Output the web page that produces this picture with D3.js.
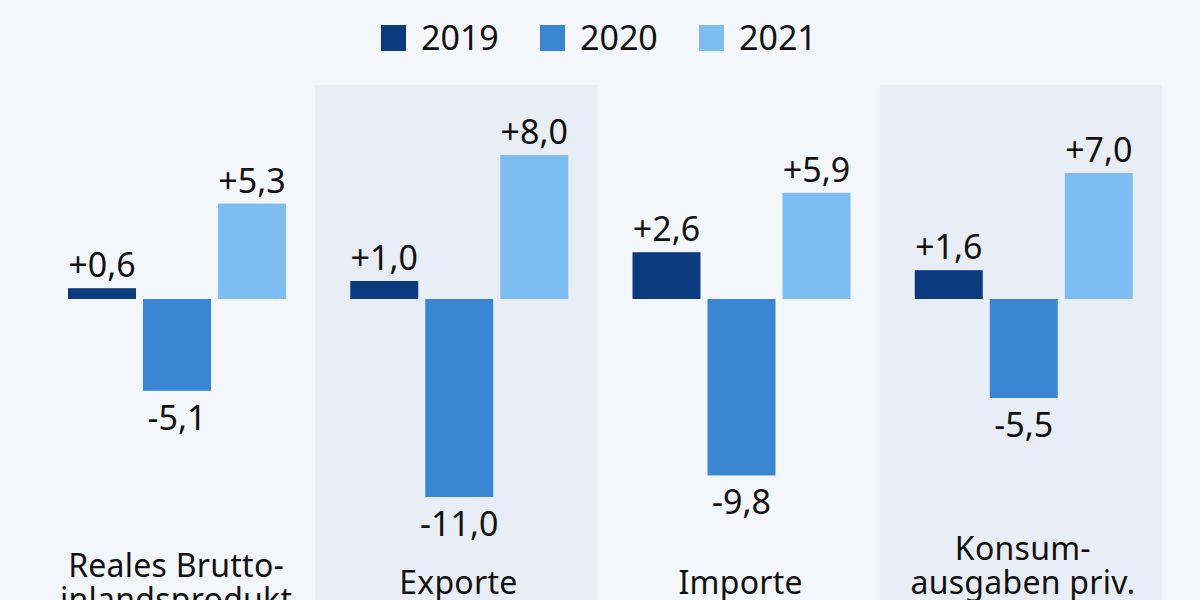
<!DOCTYPE html>
<html>
<head>
<meta charset="utf-8">
<script src="https://cdn.jsdelivr.net/npm/d3@7"></script>
<style>
  html, body { margin: 0; padding: 0; background: #f3f6fa; }
  svg { display: block; font-family: "Noto Sans", sans-serif; }
</style>
</head>
<body>
<svg id="chart" width="1200" height="600"></svg>
<script>
(function() {
  var categories = ["Reales Brutto-\ninlandsprodukt", "Exporte", "Importe", "Konsum-\nausgaben priv.\nHaushalte"];
  var years = ["2019", "2020", "2021"];
  var values2019 = [0.6, 1.0, 2.6, 1.6];
  var values2020 = [-5.1, -11.0, -9.8, -5.5];
  var values2021 = [5.3, 8.0, 5.9, 7.0];
  var colors = ["#0b3a7e", "#3a86d3", "#7dbdf1"];

  var series = [values2019, values2020, values2021];

  var width = 1200,
      height = 600,
      bandTop = 85,
      lineHeight = 34;

  var svg = d3.select("#chart");

  var x0 = d3.scaleBand()
      .domain(categories)
      .range([33, 1162]);

  var x1 = d3.scaleBand()
      .domain(years)
      .range([35, 253])
      .paddingInner(7 / 75);

  var y = d3.scaleLinear()
      .domain([-11, 8])
      .range([497, 155]);

  var fmt = v => (v > 0 ? "+" : "") + d3.format(".1f")(v).replace(".", ",").replace("−", "-");

  // shaded bands behind every second group
  svg.append("g")
    .selectAll("rect")
    .data(categories.filter((_, i) => i % 2 == 1))
    .join("rect")
      .attr("x", d => x0(d))
      .attr("y", bandTop)
      .attr("width", x0.bandwidth())
      .attr("height", height - bandTop)
      .attr("fill", "#e9eef6");

  var groups = svg.append("g")
    .selectAll("g")
    .data(categories)
    .join("g")
      .attr("transform", d => `translate(${x0(d)},0)`);

  var cells = groups.selectAll("g")
    .data((d, i) => years.map((yr, j) => ({year: yr, value: series[j][i], color: colors[j]})))
    .join("g");

  cells.append("rect")
      .attr("x", d => x1(d.year))
      .attr("y", d => y(Math.max(0, d.value)))
      .attr("width", x1.bandwidth())
      .attr("height", d => Math.abs(y(d.value) - y(0)))
      .attr("fill", d => d.color);

  cells.append("text")
      .attr("x", d => x1(d.year) + x1.bandwidth() / 2)
      .attr("y", d => d.value > 0 ? y(d.value) - 11 : y(d.value) + 39)
      .attr("text-anchor", "middle")
      .attr("font-size", "34px")
      .attr("fill", "#111")
      .text(d => fmt(d.value));

  // category labels, centred vertically around the last baseline
  groups.append("text")
      .attr("text-anchor", "middle")
      .attr("font-size", "32px")
      .attr("letter-spacing", "0.25px")
      .attr("fill", "#111")
    .selectAll("tspan")
    .data(d => d.split("\n").map((t, i, arr) => ({t: t, i: i, n: arr.length})))
    .join("tspan")
      .attr("x", x0.bandwidth() / 2 + 2)
      .attr("y", d => 594 - (d.n - 1) * lineHeight / 2 + d.i * lineHeight)
      .text(d => d.t);

  // legend
  var legend = svg.append("g")
    .selectAll("g")
    .data(years)
    .join("g")
      .attr("transform", (d, i) => `translate(${381 + i * 159},0)`);

  legend.append("rect")
      .attr("y", 25)
      .attr("width", 25)
      .attr("height", 26)
      .attr("fill", (d, i) => colors[i]);

  legend.append("text")
      .attr("x", 40)
      .attr("y", 50)
      .attr("font-size", "34px")
      .attr("fill", "#111")
      .text(d => d);
})();
</script>
</body>
</html>
